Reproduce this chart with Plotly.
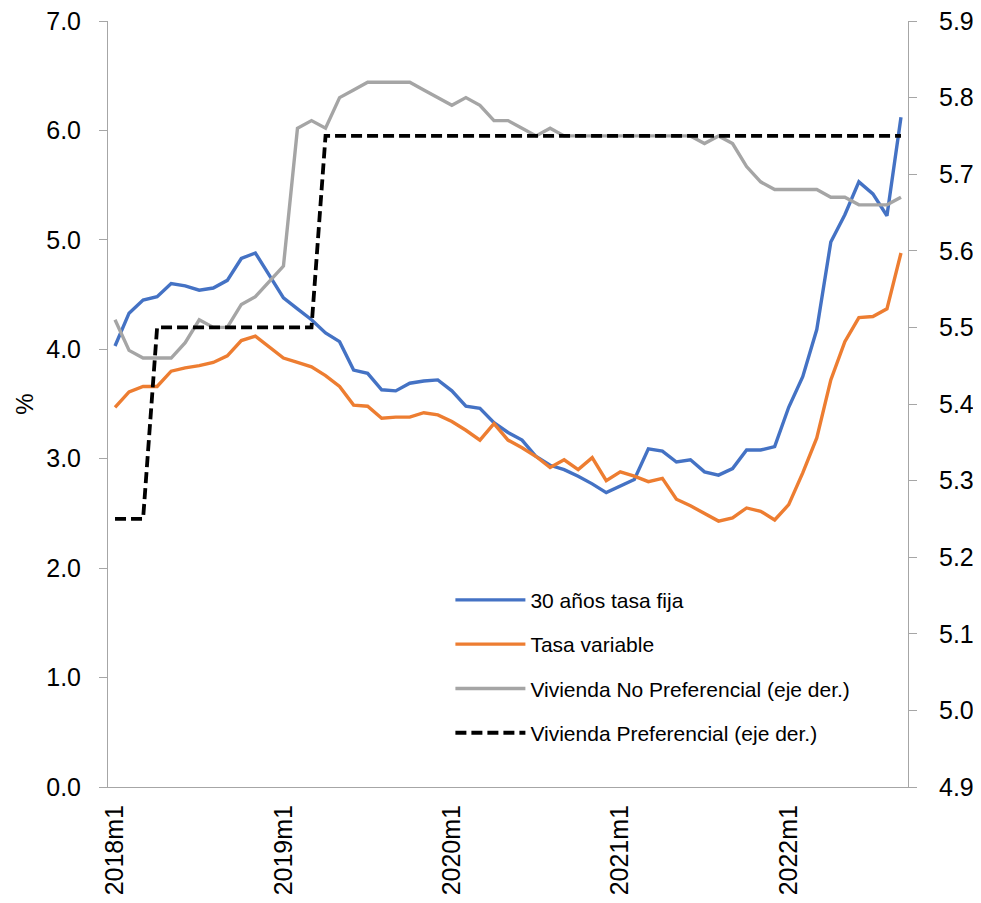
import plotly.graph_objects as go

years = [2018, 2019, 2020, 2021, 2022]
months = [f"{y}m{m}" for y in years for m in range(1, 13)][:57]

tick_labels = ["2018m1", "2019m1", "2020m1", "2021m1", "2022m1"]

tasa_fija_30 = [
    4.03, 4.33, 4.45, 4.48, 4.60, 4.58, 4.54, 4.56, 4.63, 4.83, 4.88, 4.67,
    4.47, 4.37, 4.27, 4.15, 4.07, 3.81, 3.78, 3.63, 3.62, 3.69, 3.71, 3.72,
    3.62, 3.48, 3.46, 3.33, 3.24, 3.17, 3.02, 2.94, 2.90, 2.84, 2.77, 2.69,
    2.75, 2.81, 3.09, 3.07, 2.97, 2.99, 2.88, 2.85, 2.91, 3.08, 3.08, 3.11,
    3.47, 3.75, 4.18, 4.98, 5.23, 5.53, 5.42, 5.22, 6.12,
]

tasa_variable = [
    3.47, 3.61, 3.66, 3.66, 3.80, 3.83, 3.85, 3.88, 3.94, 4.08, 4.12, 4.02,
    3.92, 3.88, 3.84, 3.76, 3.66, 3.49, 3.48, 3.37, 3.38, 3.38, 3.42, 3.40,
    3.34, 3.26, 3.17, 3.32, 3.17, 3.10, 3.02, 2.92, 2.99, 2.90, 3.01, 2.80,
    2.88, 2.84, 2.79, 2.82, 2.63, 2.57, 2.50, 2.43, 2.46, 2.55, 2.52, 2.44,
    2.58, 2.87, 3.19, 3.72, 4.07, 4.29, 4.30, 4.37, 4.88,
]

vivienda_no_pref = [
    5.51, 5.47, 5.46, 5.46, 5.46, 5.48, 5.51, 5.50, 5.50, 5.53, 5.54, 5.56,
    5.58, 5.76, 5.77, 5.76, 5.80, 5.81, 5.82, 5.82, 5.82, 5.82, 5.81, 5.80,
    5.79, 5.80, 5.79, 5.77, 5.77, 5.76, 5.75, 5.76, 5.75, 5.75, 5.75, 5.75,
    5.75, 5.75, 5.75, 5.75, 5.75, 5.75, 5.74, 5.75, 5.74, 5.71, 5.69, 5.68,
    5.68, 5.68, 5.68, 5.67, 5.67, 5.66, 5.66, 5.66, 5.67,
]

vivienda_pref = [5.25] * 3 + [5.50] * 12 + [5.75] * 42

FONT = "Liberation Sans, Arial, sans-serif"
AXIS_GRAY = "#a6a6a6"
TICK_SIZE = 25

fig = go.Figure()
fig.add_trace(go.Scatter(x=months, y=tasa_fija_30, name="30 años tasa fija",
                         mode="lines", line=dict(color="#4472C4", width=3.4),
                         legendgroup="a"))
fig.add_trace(go.Scatter(x=months, y=tasa_variable, name="Tasa variable",
                         mode="lines", line=dict(color="#ED7D31", width=3.4),
                         legendgroup="b"))
fig.add_trace(go.Scatter(x=months, y=vivienda_no_pref,
                         name="Vivienda No Preferencial (eje der.)",
                         mode="lines", line=dict(color="#A5A5A5", width=3.4),
                         yaxis="y2", legendgroup="c"))
fig.add_trace(go.Scatter(x=months, y=vivienda_pref,
                         name="Vivienda Preferencial (eje der.)",
                         mode="lines", line=dict(color="#000000", width=3.8, dash="11px,5px"),
                         yaxis="y2", legendgroup="d"))

fig.update_layout(
    width=973, height=895,
    margin=dict(l=100, r=73, t=13, b=116, autoexpand=False),
    paper_bgcolor="white", plot_bgcolor="white",
    font=dict(family=FONT, size=TICK_SIZE, color="#000000"),
    showlegend=True,
    legend=dict(
        x=0.428, xanchor="left", y=0.2706, yanchor="top",
        font=dict(size=21, family=FONT, color="#000000"),
        bgcolor="rgba(0,0,0,0)", borderwidth=0,
        traceorder="grouped", tracegroupgap=14, itemwidth=70,
    ),
    xaxis=dict(
        type="category", range=[-0.5, 56.5], automargin=False,
        tickmode="array", tickvals=tick_labels, ticktext=tick_labels,
        tickangle=-90, showgrid=False, zeroline=False,
        showline=True, linecolor=AXIS_GRAY, linewidth=1,
        ticks="", ticklabelstandoff=7, ticklabeloverflow="allow",
        tickfont=dict(size=TICK_SIZE, family=FONT),
    ),
    yaxis=dict(
        range=[0, 7], dtick=1, tick0=0, tickformat=".1f", automargin=False,
        showgrid=False, zeroline=False,
        showline=True, linecolor=AXIS_GRAY, linewidth=1,
        ticks="outside", ticklen=8, tickcolor=AXIS_GRAY, tickwidth=1,
        ticklabelstandoff=13, ticklabeloverflow="allow",
        tickfont=dict(size=TICK_SIZE, family=FONT),
        title=dict(text="%", font=dict(size=24, family=FONT), standoff=5),
    ),
    yaxis2=dict(
        range=[4.9, 5.9], dtick=0.1, tick0=4.9, tickformat=".1f", automargin=False,
        overlaying="y", side="right",
        showgrid=False, zeroline=False,
        showline=True, linecolor=AXIS_GRAY, linewidth=1,
        ticks="outside", ticklen=8, tickcolor=AXIS_GRAY, tickwidth=1,
        ticklabelstandoff=17, ticklabeloverflow="allow",
        tickfont=dict(size=TICK_SIZE, family=FONT),
    ),
)

fig.write_html("out.html")
